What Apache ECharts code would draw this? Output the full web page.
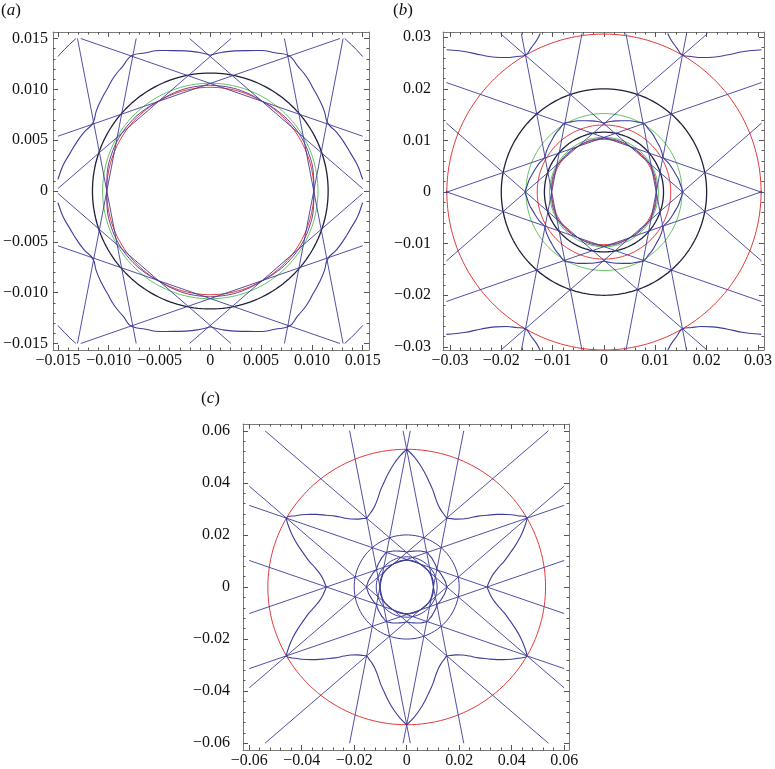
<!DOCTYPE html>
<html>
<head>
<meta charset="utf-8">
<script src="https://cdn.jsdelivr.net/npm/echarts@6/dist/echarts.min.js"></script>
<style>
  html, body { margin: 0; padding: 0; background: #fff; }
  #main { width: 775px; height: 769px; }
</style>
</head>
<body>
<div id="main"></div>
<script>
// straight lines: x*cos(n) + y*sin(n) = offset, normals in degrees
var lineNormals = [10.9, 49.1, 70.9, 109.1, 130.9, 169.1, 190.9, 229.1, 250.9, 289.1, 310.9, 349.1];
var lineOffset = 0.01;

// inner star (a): radius vs angle from a tip (tips at 0, 60, 120 ... deg)
var starAPhi = [0, 5, 10, 15, 20, 25, 30];
var starAR = [0.0154, 0.0150, 0.0147, 0.0143, 0.0140, 0.0137, 0.01335];

// big star (b, c): radius vs angle from an inner corner (corners at 0, 60 ... deg)
var starBPhi = [0, 3, 6, 9, 12, 15, 18, 21, 24, 27, 30];
var starBR = [0.0306, 0.0313, 0.0322, 0.0336, 0.0357, 0.0385, 0.0412, 0.0443, 0.0474, 0.0503, 0.0529];

// wavy ring close to the smallest circle
var ringPhi = [0, 10, 20, 30];
var ringR = [0.0102, 0.01030, 0.01037, 0.0104];

// circles per panel
var circlesA = [0.0102, 0.0106, 0.0116, 0.0200];
var circlesB = [0.0102, 0.0106, 0.0116, 0.0130, 0.0152, 0.0200, 0.0306];
var circlesC = [0.0102, 0.0116, 0.0200, 0.0529];

// tick labels
var ticksA = [-0.015, -0.01, -0.005, 0, 0.005, 0.01, 0.015];
var labelsA = ['\u22120.015', '\u22120.010', '\u22120.005', '0', '0.005', '0.010', '0.015'];
var ticksB = [-0.03, -0.02, -0.01, 0, 0.01, 0.02, 0.03];
var labelsB = ['\u22120.03', '\u22120.02', '\u22120.01', '0', '0.01', '0.02', '0.03'];
var ticksC = [-0.06, -0.04, -0.02, 0, 0.02, 0.04, 0.06];
var labelsC = ['\u22120.06', '\u22120.04', '\u22120.02', '0', '0.02', '0.04', '0.06'];

var BLUE = '#3d3d99', RED = '#e23a3a', GREEN = '#62c262', BLACK = '#20203a', PURPLE = '#6e3f92';
var FONT = 'Liberation Serif';

var panels = [
  {
    grid: { left: 51, top: 32, width: 318, height: 318 },
    xr: [-0.01548, 0.01562], yr: [-0.01564, 0.01564], clip: 0.015, yMargin: 5,
    ticks: ticksA, labels: labelsA, minorStep: 0.001,
    circles: circlesA, circleColors: [RED, GREEN, BLACK, BLUE],
    starA: BLUE, starB: null, ring: PURPLE
  },
  {
    grid: { left: 443, top: 32, width: 323, height: 318 },
    xr: [-0.03135, 0.03116], yr: [-0.0306, 0.031], clip: 0.0307, yMargin: 12,
    ticks: ticksB, labels: labelsB, minorStep: 0.002,
    circles: circlesB, circleColors: [RED, GREEN, BLACK, RED, GREEN, BLACK, RED],
    starA: BLUE, starB: BLUE, ring: PURPLE
  },
  {
    grid: { left: 243, top: 424, width: 326, height: 326 },
    xr: [-0.06236, 0.06183], yr: [-0.0626, 0.0626], clip: 0.06, yMargin: 13,
    ticks: ticksC, labels: labelsC, minorStep: 0.004,
    circles: circlesC, circleColors: [BLUE, BLUE, BLUE, RED],
    starA: BLUE, starB: BLUE, ring: BLUE
  }
];

function polar(deg, r) {
  var a = deg * Math.PI / 180;
  return [r * Math.cos(a), r * Math.sin(a)];
}

function clipSeg(p, q, L) {
  var t0 = 0, t1 = 1, dx = q[0] - p[0], dy = q[1] - p[1];
  var ps = [-dx, dx, -dy, dy];
  var qs = [p[0] + L, L - p[0], p[1] + L, L - p[1]];
  for (var i = 0; i < 4; i++) {
    if (ps[i] === 0) {
      if (qs[i] < 0) return null;
    } else {
      var t = qs[i] / ps[i];
      if (ps[i] < 0) { if (t > t1) return null; if (t > t0) t0 = t; }
      else { if (t < t0) return null; if (t < t1) t1 = t; }
    }
  }
  return [[p[0] + t0 * dx, p[1] + t0 * dy], [p[0] + t1 * dx, p[1] + t1 * dy], t0 === 0];
}

// clip a polyline to the square [-L, L], breaking it with nulls
function clipPath(pts, L, out) {
  var open = false;
  for (var i = 0; i + 1 < pts.length; i++) {
    var s = clipSeg(pts[i], pts[i + 1], L);
    if (!s) { open = false; continue; }
    if (!(open && s[2])) {
      if (out.length) out.push(null);
      out.push(s[0]);
    }
    out.push(s[1]);
    open = (s[1][0] === pts[i + 1][0] && s[1][1] === pts[i + 1][1]);
  }
  return out;
}

function circlePts(r) {
  var pts = [];
  for (var a = 0; a <= 360; a += 2) pts.push(polar(a, r));
  return pts;
}

function starPts(phi, rad) {
  var pts = [];
  var n = phi.length;
  for (var k = 0; k < 6; k++) {
    var v = 60 * k;
    for (var i = 0; i < n; i++) pts.push(polar(v + phi[i], rad[i]));
    for (var j = n - 2; j >= 1; j--) pts.push(polar(v + 60 - phi[j], rad[j]));
  }
  pts.push(pts[0]);
  return pts;
}

function linePts(normal) {
  var n = polar(normal, 1);
  var c = [n[0] * lineOffset, n[1] * lineOffset];
  return [[c[0] + n[1], c[1] - n[0]], [c[0] - n[1], c[1] + n[0]]];
}

var xAxes = [], yAxes = [], series = [], titles = [];

panels.forEach(function (p, gi) {
  var minors = [];
  var nMin = Math.round(p.ticks[p.ticks.length - 1] / p.minorStep);
  for (var m = -nMin; m <= nMin; m++) minors.push(+(m * p.minorStep).toFixed(6));
  var fmt = function (v) {
    for (var i = 0; i < p.ticks.length; i++) {
      if (Math.abs(p.ticks[i] - v) < 1e-9) return p.labels[i];
    }
    return '';
  };
  function axis(isX, pos, major, withLabel) {
    var r = isX ? p.xr : p.yr;
    return {
      type: 'value', gridIndex: gi, position: pos, min: r[0], max: r[1],
      axisLine: { show: major, onZero: false, lineStyle: { color: '#7a7a7a', width: 1 } },
      axisTick: {
        show: true, inside: true, length: major ? 5 : 2.5,
        customValues: major ? p.ticks : minors,
        lineStyle: { color: '#555', width: 1 }
      },
      axisLabel: {
        show: withLabel, customValues: p.ticks, formatter: fmt,
        fontFamily: FONT, fontSize: 16, color: '#111', margin: isX ? 3 : p.yMargin
      },
      splitLine: { show: false }
    };
  }
  xAxes.push(axis(true, 'bottom', true, true), axis(true, 'bottom', false, false),
             axis(true, 'top', true, false), axis(true, 'top', false, false));
  yAxes.push(axis(false, 'left', true, true), axis(false, 'left', false, false),
             axis(false, 'right', true, false), axis(false, 'right', false, false));

  var ai = gi * 4;
  function add(data, color, width, smooth) {
    series.push({
      type: 'line', xAxisIndex: ai, yAxisIndex: ai, data: data,
      symbol: 'none', silent: true, animation: false, connectNulls: false,
      smooth: smooth || false,
      lineStyle: { color: color, width: width || 1 }, clip: true
    });
  }

  p.circles.forEach(function (r, i) {
    add(clipPath(circlePts(r), p.clip, []), p.circleColors[i], p.circleColors[i] === BLACK ? 1.3 : 1);
  });
  add(clipPath(starPts(ringPhi, ringR), p.clip, []), p.ring, 1, 0.4);
  add(clipPath(starPts(starAPhi, starAR), p.clip, []), p.starA, 1.1, 0.5);
  if (p.starB) add(clipPath(starPts(starBPhi, starBR), p.clip, []), p.starB, 1.1, 0.4);
  var lines = [];
  lineNormals.forEach(function (n) { clipPath(linePts(n), p.clip, lines); });
  add(lines, BLUE, 0.9);
});

var panelNames = ['a', 'b', 'c'];
var titlePos = [[1, 2], [393, 2], [201, 390]];
panelNames.forEach(function (nm, i) {
  titles.push({
    text: '{n|(}{i|' + nm + '}{n|)}',
    left: titlePos[i][0], top: titlePos[i][1], padding: 0,
    textStyle: {
      fontWeight: 'normal',
      rich: {
        n: { fontFamily: FONT, fontSize: 17, fontWeight: 'normal', color: '#111' },
        i: { fontFamily: FONT, fontSize: 17, fontWeight: 'normal', fontStyle: 'italic', color: '#111' }
      }
    }
  });
});

var myChart = echarts.init(document.getElementById('main'));
myChart.setOption({
  animation: false,
  title: titles,
  grid: panels.map(function (p) {
    return Object.assign({ containLabel: false, show: false }, p.grid);
  }),
  xAxis: xAxes,
  yAxis: yAxes,
  series: series
});
</script>
</body>
</html>
